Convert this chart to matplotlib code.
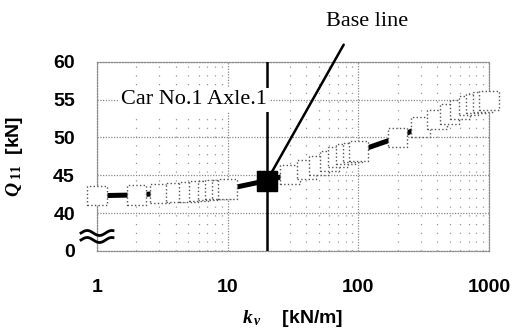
import numpy as np
import matplotlib
matplotlib.use("Agg")
import matplotlib.pyplot as plt
from matplotlib.ticker import FixedLocator, NullFormatter

kv = [1, 2, 3, 4, 5, 6, 7, 8, 9, 10, 20, 30, 40, 50, 60, 70, 80, 90, 100,
      200, 300, 400, 500, 600, 700, 800, 900, 1000]
Q11 = [42.3, 42.4, 42.6, 42.7, 42.8, 42.9, 43.0, 43.1, 43.1, 43.2, 44.3,
       45.1, 45.8, 46.3, 46.9, 47.4, 47.8, 48.0, 48.2,
       50.0, 51.4, 52.4, 53.1, 53.7, 54.2, 54.5, 54.7, 54.9]
base_kv = 20
base_Q = 44.3
yticks = [35, 40, 45, 50, 55, 60]
ytick_labels = ["0", "40", "45", "50", "55", "60"]
xticks = [1, 10, 100, 1000]
xtick_labels = ["1", "10", "100", "1000"]

plt.rcParams['mathtext.fontset'] = 'custom'
plt.rcParams['mathtext.it'] = 'Liberation Serif:italic:bold'
plt.rcParams['mathtext.rm'] = 'Liberation Serif:bold'

fig = plt.figure(figsize=(5.14, 3.31), dpi=100)
ax = fig.add_axes([0.189, 0.242, 0.762, 0.571])
ax.set_xscale('log')
ax.set_xlim(1, 1000)
ax.set_ylim(35, 60)

# grid
ax.xaxis.set_major_locator(FixedLocator(xticks))
ax.xaxis.set_minor_locator(FixedLocator([m * d for d in (1, 10, 100) for m in range(2, 10)]))
ax.xaxis.set_minor_formatter(NullFormatter())
ax.set_xticklabels(xtick_labels, fontfamily='Liberation Sans', fontweight='bold', fontsize=14)
ax.set_yticks(yticks)
ax.set_yticklabels(ytick_labels, fontfamily='Liberation Sans', fontweight='bold', fontsize=14)
ax.tick_params(which='both', length=0)
ax.tick_params(axis='x', pad=20)
ax.tick_params(axis='y', pad=16)
ax.grid(True, which='major', color='#888888', linestyle=(0, (1, 1.2)), linewidth=0.9)
ax.grid(True, which='minor', axis='x', color='#999999', linestyle=(0, (1, 6)), linewidth=0.9)
for s in ax.spines.values():
    s.set_linestyle((0, (1, 1.2)))
    s.set_color('#888888')
    s.set_linewidth(0.9)

# base vertical line
ax.axvline(base_kv, color='black', lw=1.8, zorder=3)

# data
ax.plot(kv, Q11, color='black', lw=3.6, zorder=4)
ax.scatter(kv, Q11, marker='s', s=196, facecolor='white', edgecolor='#555555',
           linewidths=1.0, linestyle=':', zorder=5, clip_on=False)
ax.scatter([base_kv], [base_Q], marker='s', s=220, facecolor='black',
           edgecolor='black', zorder=6)

# labels inside
ax.text(0.06, 0.80, "Car No.1 Axle.1", transform=ax.transAxes, ha='left', va='center',
        fontfamily='Liberation Serif', fontsize=16,
        bbox=dict(facecolor='white', edgecolor='none', pad=2), zorder=7)

ax.annotate("Base line", xy=(base_kv, base_Q), xycoords='data',
            xytext=(0.714, 0.935), textcoords='figure fraction',
            ha='center', va='center', fontfamily='Liberation Serif', fontsize=16,
            arrowprops=dict(arrowstyle='-', lw=1.8, color='black',
                            relpos=(0.31, 0.0), shrinkA=9, shrinkB=0),
            zorder=8)

ax.set_xlabel(r"$k_{\,v}$    [kN/m]", fontfamily='Liberation Sans', fontweight='bold', fontsize=14)
ax.set_ylabel(r"$Q_{\ 11}$  [kN]", fontfamily='Liberation Sans', fontweight='bold', fontsize=14)
ax.xaxis.set_label_coords(0.50, -0.30)
ax.yaxis.set_label_coords(-0.185, 0.50)

# axis break squiggles
t = np.linspace(0, 1, 60)
for yc in (233, 240):
    xs = (81 + 32 * t) / 514
    ys = 1 - (yc - 2.5 * np.sin(2 * np.pi * t * 1.3)) / 331
    fig.add_artist(plt.Line2D(xs, ys, color='black', lw=2.0, transform=fig.transFigure))

fig.savefig("out.png", dpi=100)
